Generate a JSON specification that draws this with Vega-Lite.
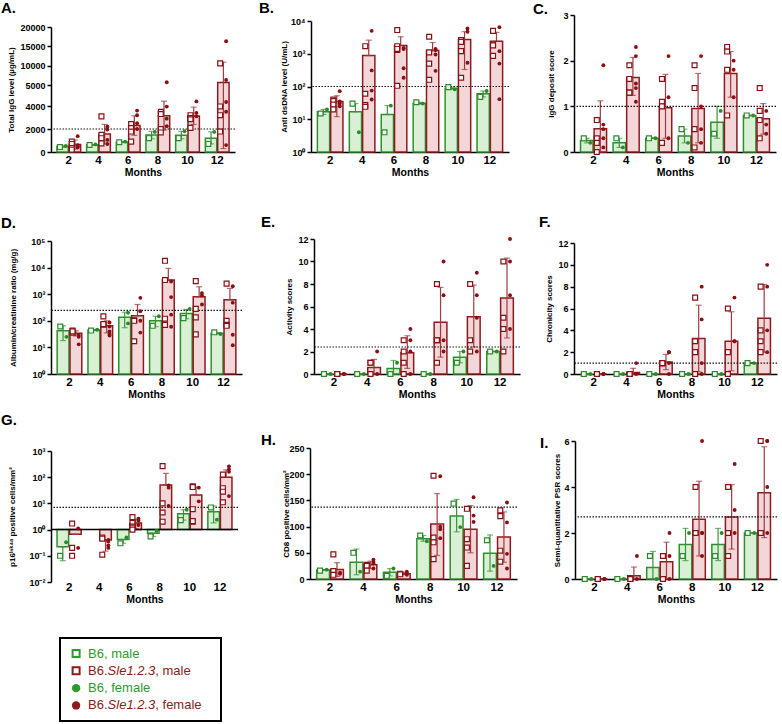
{
"$schema":"https://vega.github.io/schema/vega-lite/v6.json",
"padding":{"left":1,"top":1,"right":0,"bottom":0},
"background":"white",
"config":{
 "font":"Liberation Sans",
 "view":{"stroke":null},
 "axis":{"domainColor":"#000","domainWidth":1.5,"tickColor":"#000","tickWidth":1.5,"labelColor":"#000","titleColor":"#000","labelFontWeight":"bold","titleFontWeight":"bold","grid":false},
 "axisX":{"ticks":false,"labelFontSize":11.5,"labelPadding":2,"labelAngle":0,"titleFontSize":10.5,"titlePadding":2},
 "axisY":{"tickSize":4,"labelFontSize":9,"labelPadding":2,"titleFontSize":8,"labelOverlap":false,"tickCount":12},
 "title":{"fontSize":15,"fontWeight":"bold","anchor":"start","color":"#000","frame":"group"},
 "scale":{"bandPaddingInner":0.32,"bandPaddingOuter":0.3}
},
"datasets":{
"t":[{"p":"A","t":2000},{"p":"B","t":100},{"p":"C","t":1},{"p":"D","t":245},{"p":"E","t":2.4},{"p":"F","t":1},{"p":"G","t":7},{"p":"H","t":137},{"p":"I","t":2.7}],
"b":[
{"p":"A","m":2,"g":"B6","mean":480,"lo":420,"hi":540},{"p":"A","m":2,"g":"Sle","mean":650,"lo":250,"hi":1050},
{"p":"A","m":4,"g":"B6","mean":630,"lo":600,"hi":660},{"p":"A","m":4,"g":"Sle","mean":1560,"lo":700,"hi":2400},
{"p":"A","m":6,"g":"B6","mean":880,"lo":850,"hi":910},{"p":"A","m":6,"g":"Sle","mean":2300,"lo":1450,"hi":3150},
{"p":"A","m":8,"g":"B6","mean":1475,"lo":1150,"hi":1800},{"p":"A","m":8,"g":"Sle","mean":3160,"lo":1900,"hi":4420},
{"p":"A","m":10,"g":"B6","mean":1450,"lo":1150,"hi":1800},{"p":"A","m":10,"g":"Sle","mean":3140,"lo":2400,"hi":3900},
{"p":"A","m":12,"g":"B6","mean":1200,"lo":700,"hi":1750},{"p":"A","m":12,"g":"Sle","mean":5640,"lo":300,"hi":10900},
{"p":"B","m":2,"g":"B6","mean":17,"lo":14,"hi":20},{"p":"B","m":2,"g":"Sle","mean":35,"lo":12,"hi":52},
{"p":"B","m":4,"g":"B6","mean":17,"lo":17,"hi":30},{"p":"B","m":4,"g":"Sle","mean":880,"lo":880,"hi":2600},
{"p":"B","m":6,"g":"B6","mean":14,"lo":14,"hi":26},{"p":"B","m":6,"g":"Sle","mean":1800,"lo":1800,"hi":3300},
{"p":"B","m":8,"g":"B6","mean":31,"lo":29,"hi":33},{"p":"B","m":8,"g":"Sle","mean":1250,"lo":1250,"hi":2200},
{"p":"B","m":10,"g":"B6","mean":88,"lo":82,"hi":95},{"p":"B","m":10,"g":"Sle","mean":2700,"lo":330,"hi":4700},
{"p":"B","m":12,"g":"B6","mean":60,"lo":48,"hi":73},{"p":"B","m":12,"g":"Sle","mean":2400,"lo":2400,"hi":4500},
{"p":"C","m":2,"g":"B6","mean":0.25,"lo":0.2,"hi":0.3},{"p":"C","m":2,"g":"Sle","mean":0.51,"lo":0,"hi":1.12},
{"p":"C","m":4,"g":"B6","mean":0.2,"lo":0.1,"hi":0.3},{"p":"C","m":4,"g":"Sle","mean":1.63,"lo":1.24,"hi":2.07},
{"p":"C","m":6,"g":"B6","mean":0.3,"lo":0.3,"hi":0.3},{"p":"C","m":6,"g":"Sle","mean":0.97,"lo":0.3,"hi":1.7},
{"p":"C","m":8,"g":"B6","mean":0.35,"lo":0.2,"hi":0.5},{"p":"C","m":8,"g":"Sle","mean":0.95,"lo":0.2,"hi":1.72},
{"p":"C","m":10,"g":"B6","mean":0.65,"lo":0.3,"hi":1.0},{"p":"C","m":10,"g":"Sle","mean":1.72,"lo":1.2,"hi":2.2},
{"p":"C","m":12,"g":"B6","mean":0.8,"lo":0.8,"hi":0.8},{"p":"C","m":12,"g":"Sle","mean":0.73,"lo":0.39,"hi":1.06},
{"p":"D","m":2,"g":"B6","mean":42,"lo":18,"hi":65},{"p":"D","m":2,"g":"Sle","mean":34,"lo":27,"hi":42},
{"p":"D","m":4,"g":"B6","mean":45,"lo":43,"hi":47},{"p":"D","m":4,"g":"Sle","mean":65,"lo":35,"hi":100},
{"p":"D","m":6,"g":"B6","mean":135,"lo":55,"hi":210},{"p":"D","m":6,"g":"Sle","mean":155,"lo":155,"hi":410},
{"p":"D","m":8,"g":"B6","mean":100,"lo":60,"hi":148},{"p":"D","m":8,"g":"Sle","mean":3400,"lo":3400,"hi":9300},
{"p":"D","m":10,"g":"B6","mean":190,"lo":120,"hi":270},{"p":"D","m":10,"g":"Sle","mean":800,"lo":800,"hi":1900},
{"p":"D","m":12,"g":"B6","mean":34,"lo":32,"hi":36},{"p":"D","m":12,"g":"Sle","mean":620,"lo":620,"hi":1650},
{"p":"E","m":2,"g":"B6","mean":0,"lo":0,"hi":0},{"p":"E","m":2,"g":"Sle","mean":0,"lo":0,"hi":0},
{"p":"E","m":4,"g":"B6","mean":0,"lo":0,"hi":0},{"p":"E","m":4,"g":"Sle","mean":0.57,"lo":0,"hi":1.3},
{"p":"E","m":6,"g":"B6","mean":0.5,"lo":0,"hi":1.2},{"p":"E","m":6,"g":"Sle","mean":1.9,"lo":0.5,"hi":3.4},
{"p":"E","m":8,"g":"B6","mean":0,"lo":0,"hi":0},{"p":"E","m":8,"g":"Sle","mean":4.6,"lo":1.5,"hi":7.7},
{"p":"E","m":10,"g":"B6","mean":1.5,"lo":1,"hi":2},{"p":"E","m":10,"g":"Sle","mean":5.1,"lo":2.4,"hi":7.9},
{"p":"E","m":12,"g":"B6","mean":2,"lo":2,"hi":2},{"p":"E","m":12,"g":"Sle","mean":6.75,"lo":3.2,"hi":10.3},
{"p":"F","m":2,"g":"B6","mean":0,"lo":0,"hi":0},{"p":"F","m":2,"g":"Sle","mean":0,"lo":0,"hi":0},
{"p":"F","m":4,"g":"B6","mean":0,"lo":0,"hi":0},{"p":"F","m":4,"g":"Sle","mean":0.14,"lo":0,"hi":0.52},
{"p":"F","m":6,"g":"B6","mean":0,"lo":0,"hi":0},{"p":"F","m":6,"g":"Sle","mean":1.1,"lo":0.4,"hi":1.8},
{"p":"F","m":8,"g":"B6","mean":0,"lo":0,"hi":0},{"p":"F","m":8,"g":"Sle","mean":3.25,"lo":0.2,"hi":6.3},
{"p":"F","m":10,"g":"B6","mean":0,"lo":0,"hi":0},{"p":"F","m":10,"g":"Sle","mean":3,"lo":0.3,"hi":5.7},
{"p":"F","m":12,"g":"B6","mean":1,"lo":1,"hi":1},{"p":"F","m":12,"g":"Sle","mean":5.1,"lo":2,"hi":8.2},
{"p":"G","m":2,"g":"B6","mean":0.22,"lo":0.065,"hi":0.22},{"p":"G","m":2,"g":"Sle","mean":0.66,"lo":0.66,"hi":0.66},
{"p":"G","m":4,"g":"Sle","mean":0.4,"lo":0.15,"hi":0.4},
{"p":"G","m":6,"g":"B6","mean":0.42,"lo":0.3,"hi":0.42},{"p":"G","m":6,"g":"Sle","mean":1.8,"lo":1.1,"hi":2.5},
{"p":"G","m":8,"g":"B6","mean":0.73,"lo":0.55,"hi":0.73},{"p":"G","m":8,"g":"Sle","mean":50,"lo":50,"hi":140},
{"p":"G","m":10,"g":"B6","mean":4,"lo":2.3,"hi":5.7},{"p":"G","m":10,"g":"Sle","mean":21,"lo":21,"hi":42},
{"p":"G","m":12,"g":"B6","mean":4.8,"lo":1.8,"hi":8},{"p":"G","m":12,"g":"Sle","mean":100,"lo":100,"hi":190},
{"p":"H","m":2,"g":"B6","mean":17,"lo":16,"hi":18},{"p":"H","m":2,"g":"Sle","mean":18,"lo":5,"hi":31},
{"p":"H","m":4,"g":"B6","mean":32,"lo":8,"hi":57},{"p":"H","m":4,"g":"Sle","mean":27,"lo":20,"hi":34},
{"p":"H","m":6,"g":"B6","mean":13,"lo":6,"hi":20},{"p":"H","m":6,"g":"Sle","mean":10,"lo":8,"hi":13},
{"p":"H","m":8,"g":"B6","mean":77,"lo":72,"hi":83},{"p":"H","m":8,"g":"Sle","mean":105,"lo":45,"hi":163},
{"p":"H","m":10,"g":"B6","mean":120,"lo":90,"hi":152},{"p":"H","m":10,"g":"Sle","mean":95,"lo":50,"hi":140},
{"p":"H","m":12,"g":"B6","mean":49,"lo":15,"hi":84},{"p":"H","m":12,"g":"Sle","mean":80,"lo":32,"hi":128},
{"p":"I","m":2,"g":"B6","mean":0,"lo":0,"hi":0},{"p":"I","m":2,"g":"Sle","mean":0,"lo":0,"hi":0},
{"p":"I","m":4,"g":"B6","mean":0,"lo":0,"hi":0},{"p":"I","m":4,"g":"Sle","mean":0.14,"lo":0,"hi":0.52},
{"p":"I","m":6,"g":"B6","mean":0.5,"lo":0,"hi":1.2},{"p":"I","m":6,"g":"Sle","mean":0.75,"lo":0,"hi":1.6},
{"p":"I","m":8,"g":"B6","mean":1.5,"lo":0.8,"hi":2.2},{"p":"I","m":8,"g":"Sle","mean":2.6,"lo":1,"hi":4.25},
{"p":"I","m":10,"g":"B6","mean":1.5,"lo":0.8,"hi":2.2},{"p":"I","m":10,"g":"Sle","mean":2.7,"lo":1.3,"hi":4.1},
{"p":"I","m":12,"g":"B6","mean":2,"lo":2,"hi":2},{"p":"I","m":12,"g":"Sle","mean":3.75,"lo":1.8,"hi":5.75}
],
"d":[
{"p":"A","m":2,"g":"B6","s":"m","v":430},{"p":"A","m":2,"g":"B6","s":"f","v":520},
{"p":"A","m":2,"g":"Sle","s":"f","v":1380},{"p":"A","m":2,"g":"Sle","s":"m","v":900},{"p":"A","m":2,"g":"Sle","s":"m","v":700},{"p":"A","m":2,"g":"Sle","s":"f","v":600},{"p":"A","m":2,"g":"Sle","s":"f","v":500},{"p":"A","m":2,"g":"Sle","s":"m","v":350},{"p":"A","m":2,"g":"Sle","s":"m","v":200},{"p":"A","m":2,"g":"Sle","s":"f","v":400},
{"p":"A","m":4,"g":"B6","s":"m","v":610},{"p":"A","m":4,"g":"B6","s":"f","v":660},
{"p":"A","m":4,"g":"Sle","s":"m","v":3100},{"p":"A","m":4,"g":"Sle","s":"f","v":2200},{"p":"A","m":4,"g":"Sle","s":"f","v":1950},{"p":"A","m":4,"g":"Sle","s":"m","v":1500},{"p":"A","m":4,"g":"Sle","s":"m","v":1200},{"p":"A","m":4,"g":"Sle","s":"f","v":1050},{"p":"A","m":4,"g":"Sle","s":"m","v":750},{"p":"A","m":4,"g":"Sle","s":"f","v":700},
{"p":"A","m":6,"g":"B6","s":"m","v":850},{"p":"A","m":6,"g":"B6","s":"f","v":900},
{"p":"A","m":6,"g":"Sle","s":"f","v":3600},{"p":"A","m":6,"g":"Sle","s":"f","v":3200},{"p":"A","m":6,"g":"Sle","s":"f","v":2500},{"p":"A","m":6,"g":"Sle","s":"f","v":2000},{"p":"A","m":6,"g":"Sle","s":"m","v":2430},{"p":"A","m":6,"g":"Sle","s":"m","v":2080},{"p":"A","m":6,"g":"Sle","s":"m","v":1780},{"p":"A","m":6,"g":"Sle","s":"m","v":900},
{"p":"A","m":8,"g":"B6","s":"m","v":1200},{"p":"A","m":8,"g":"B6","s":"f","v":1750},
{"p":"A","m":8,"g":"Sle","s":"f","v":5700},{"p":"A","m":8,"g":"Sle","s":"f","v":3950},{"p":"A","m":8,"g":"Sle","s":"m","v":3500},{"p":"A","m":8,"g":"Sle","s":"m","v":3300},{"p":"A","m":8,"g":"Sle","s":"f","v":2900},{"p":"A","m":8,"g":"Sle","s":"f","v":2250},{"p":"A","m":8,"g":"Sle","s":"m","v":2000},{"p":"A","m":8,"g":"Sle","s":"m","v":1700},
{"p":"A","m":10,"g":"B6","s":"m","v":1200},{"p":"A","m":10,"g":"B6","s":"f","v":1800},
{"p":"A","m":10,"g":"Sle","s":"f","v":4400},{"p":"A","m":10,"g":"Sle","s":"f","v":3400},{"p":"A","m":10,"g":"Sle","s":"m","v":3200},{"p":"A","m":10,"g":"Sle","s":"f","v":3100},{"p":"A","m":10,"g":"Sle","s":"m","v":2950},{"p":"A","m":10,"g":"Sle","s":"m","v":2850},{"p":"A","m":10,"g":"Sle","s":"m","v":2100},
{"p":"A","m":12,"g":"B6","s":"f","v":1750},{"p":"A","m":12,"g":"B6","s":"m","v":700},
{"p":"A","m":12,"g":"Sle","s":"f","v":16300},{"p":"A","m":12,"g":"Sle","s":"f","v":6300},{"p":"A","m":12,"g":"Sle","s":"f","v":4350},{"p":"A","m":12,"g":"Sle","s":"f","v":3500},{"p":"A","m":12,"g":"Sle","s":"f","v":600},{"p":"A","m":12,"g":"Sle","s":"m","v":10600},{"p":"A","m":12,"g":"Sle","s":"m","v":3960},{"p":"A","m":12,"g":"Sle","s":"m","v":3200},{"p":"A","m":12,"g":"Sle","s":"m","v":1780},
{"p":"B","m":2,"g":"B6","s":"f","v":20},{"p":"B","m":2,"g":"B6","s":"m","v":15},
{"p":"B","m":2,"g":"Sle","s":"f","v":72},{"p":"B","m":2,"g":"Sle","s":"m","v":40},{"p":"B","m":2,"g":"Sle","s":"m","v":36},{"p":"B","m":2,"g":"Sle","s":"f","v":35},{"p":"B","m":2,"g":"Sle","s":"f","v":30},{"p":"B","m":2,"g":"Sle","s":"m","v":28},{"p":"B","m":2,"g":"Sle","s":"f","v":25},{"p":"B","m":2,"g":"Sle","s":"m","v":20},
{"p":"B","m":4,"g":"B6","s":"m","v":30},{"p":"B","m":4,"g":"B6","s":"f","v":4},
{"p":"B","m":4,"g":"Sle","s":"f","v":5000},{"p":"B","m":4,"g":"Sle","s":"m","v":1700},{"p":"B","m":4,"g":"Sle","s":"f","v":310},{"p":"B","m":4,"g":"Sle","s":"f","v":75},{"p":"B","m":4,"g":"Sle","s":"m","v":60},{"p":"B","m":4,"g":"Sle","s":"f","v":40},{"p":"B","m":4,"g":"Sle","s":"m","v":27},{"p":"B","m":4,"g":"Sle","s":"m","v":24},
{"p":"B","m":6,"g":"B6","s":"f","v":26},{"p":"B","m":6,"g":"B6","s":"m","v":4},
{"p":"B","m":6,"g":"Sle","s":"m","v":5300},{"p":"B","m":6,"g":"Sle","s":"m","v":1700},{"p":"B","m":6,"g":"Sle","s":"f","v":1500},{"p":"B","m":6,"g":"Sle","s":"f","v":1400},{"p":"B","m":6,"g":"Sle","s":"m","v":1300},{"p":"B","m":6,"g":"Sle","s":"m","v":1400},{"p":"B","m":6,"g":"Sle","s":"f","v":360},{"p":"B","m":6,"g":"Sle","s":"f","v":185},{"p":"B","m":6,"g":"Sle","s":"m","v":105},
{"p":"B","m":8,"g":"B6","s":"f","v":30},{"p":"B","m":8,"g":"B6","s":"m","v":33},
{"p":"B","m":8,"g":"Sle","s":"m","v":3300},{"p":"B","m":8,"g":"Sle","s":"f","v":1400},{"p":"B","m":8,"g":"Sle","s":"f","v":1300},{"p":"B","m":8,"g":"Sle","s":"m","v":1100},{"p":"B","m":8,"g":"Sle","s":"m","v":500},{"p":"B","m":8,"g":"Sle","s":"f","v":300},{"p":"B","m":8,"g":"Sle","s":"m","v":160},{"p":"B","m":8,"g":"Sle","s":"f","v":950},
{"p":"B","m":10,"g":"B6","s":"f","v":82},{"p":"B","m":10,"g":"B6","s":"m","v":96},
{"p":"B","m":10,"g":"Sle","s":"f","v":5900},{"p":"B","m":10,"g":"Sle","s":"f","v":4700},{"p":"B","m":10,"g":"Sle","s":"m","v":2600},{"p":"B","m":10,"g":"Sle","s":"m","v":2300},{"p":"B","m":10,"g":"Sle","s":"m","v":1200},{"p":"B","m":10,"g":"Sle","s":"f","v":530},{"p":"B","m":10,"g":"Sle","s":"m","v":185},
{"p":"B","m":12,"g":"B6","s":"f","v":73},{"p":"B","m":12,"g":"B6","s":"m","v":48},
{"p":"B","m":12,"g":"Sle","s":"f","v":6500},{"p":"B","m":12,"g":"Sle","s":"m","v":5000},{"p":"B","m":12,"g":"Sle","s":"m","v":1950},{"p":"B","m":12,"g":"Sle","s":"m","v":1800},{"p":"B","m":12,"g":"Sle","s":"m","v":860},{"p":"B","m":12,"g":"Sle","s":"f","v":1200},{"p":"B","m":12,"g":"Sle","s":"f","v":500},{"p":"B","m":12,"g":"Sle","s":"f","v":41},
{"p":"C","m":2,"g":"B6","s":"m","v":0.3},{"p":"C","m":2,"g":"B6","s":"f","v":0.2},
{"p":"C","m":2,"g":"Sle","s":"f","v":1.9},{"p":"C","m":2,"g":"Sle","s":"m","v":0.7},{"p":"C","m":2,"g":"Sle","s":"f","v":0.6},{"p":"C","m":2,"g":"Sle","s":"f","v":0.5},{"p":"C","m":2,"g":"Sle","s":"m","v":0.3},{"p":"C","m":2,"g":"Sle","s":"f","v":0.3},{"p":"C","m":2,"g":"Sle","s":"m","v":0.2},{"p":"C","m":2,"g":"Sle","s":"f","v":0.1},{"p":"C","m":2,"g":"Sle","s":"m","v":0},
{"p":"C","m":4,"g":"B6","s":"m","v":0.3},{"p":"C","m":4,"g":"B6","s":"f","v":0.1},
{"p":"C","m":4,"g":"Sle","s":"f","v":2.3},{"p":"C","m":4,"g":"Sle","s":"f","v":2.1},{"p":"C","m":4,"g":"Sle","s":"m","v":1.9},{"p":"C","m":4,"g":"Sle","s":"m","v":1.6},{"p":"C","m":4,"g":"Sle","s":"f","v":1.5},{"p":"C","m":4,"g":"Sle","s":"f","v":1.4},{"p":"C","m":4,"g":"Sle","s":"m","v":1.3},{"p":"C","m":4,"g":"Sle","s":"m","v":1.3},{"p":"C","m":4,"g":"Sle","s":"f","v":1.1},
{"p":"C","m":6,"g":"B6","s":"m","v":0.3},{"p":"C","m":6,"g":"B6","s":"f","v":0.3},
{"p":"C","m":6,"g":"Sle","s":"f","v":2.1},{"p":"C","m":6,"g":"Sle","s":"m","v":1.6},{"p":"C","m":6,"g":"Sle","s":"f","v":1.2},{"p":"C","m":6,"g":"Sle","s":"m","v":1.1},{"p":"C","m":6,"g":"Sle","s":"m","v":1.0},{"p":"C","m":6,"g":"Sle","s":"f","v":0.3},{"p":"C","m":6,"g":"Sle","s":"m","v":0.2},
{"p":"C","m":8,"g":"B6","s":"m","v":0.5},{"p":"C","m":8,"g":"B6","s":"f","v":0.2},
{"p":"C","m":8,"g":"Sle","s":"f","v":2.1},{"p":"C","m":8,"g":"Sle","s":"m","v":1.9},{"p":"C","m":8,"g":"Sle","s":"m","v":1.4},{"p":"C","m":8,"g":"Sle","s":"f","v":1.0},{"p":"C","m":8,"g":"Sle","s":"m","v":0.5},{"p":"C","m":8,"g":"Sle","s":"f","v":0.5},{"p":"C","m":8,"g":"Sle","s":"f","v":0.2},{"p":"C","m":8,"g":"Sle","s":"m","v":0.1},
{"p":"C","m":10,"g":"B6","s":"f","v":0.9},{"p":"C","m":10,"g":"B6","s":"m","v":0.4},
{"p":"C","m":10,"g":"Sle","s":"m","v":2.3},{"p":"C","m":10,"g":"Sle","s":"m","v":2.2},{"p":"C","m":10,"g":"Sle","s":"f","v":2.0},{"p":"C","m":10,"g":"Sle","s":"m","v":1.8},{"p":"C","m":10,"g":"Sle","s":"f","v":1.8},{"p":"C","m":10,"g":"Sle","s":"f","v":1.2},{"p":"C","m":10,"g":"Sle","s":"m","v":0.8},
{"p":"C","m":12,"g":"B6","s":"m","v":0.8},{"p":"C","m":12,"g":"B6","s":"f","v":0.8},
{"p":"C","m":12,"g":"Sle","s":"m","v":1.4},{"p":"C","m":12,"g":"Sle","s":"m","v":0.9},{"p":"C","m":12,"g":"Sle","s":"f","v":0.9},{"p":"C","m":12,"g":"Sle","s":"m","v":0.7},{"p":"C","m":12,"g":"Sle","s":"f","v":0.6},{"p":"C","m":12,"g":"Sle","s":"f","v":0.4},{"p":"C","m":12,"g":"Sle","s":"m","v":0.3},
{"p":"D","m":2,"g":"B6","s":"m","v":61},{"p":"D","m":2,"g":"B6","s":"f","v":25},
{"p":"D","m":2,"g":"Sle","s":"m","v":43},{"p":"D","m":2,"g":"Sle","s":"m","v":36},{"p":"D","m":2,"g":"Sle","s":"m","v":40},{"p":"D","m":2,"g":"Sle","s":"f","v":29},{"p":"D","m":2,"g":"Sle","s":"f","v":25},{"p":"D","m":2,"g":"Sle","s":"f","v":13},
{"p":"D","m":4,"g":"B6","s":"m","v":43},{"p":"D","m":4,"g":"B6","s":"f","v":46},
{"p":"D","m":4,"g":"Sle","s":"m","v":147},{"p":"D","m":4,"g":"Sle","s":"m","v":71},{"p":"D","m":4,"g":"Sle","s":"m","v":75},{"p":"D","m":4,"g":"Sle","s":"f","v":61},{"p":"D","m":4,"g":"Sle","s":"f","v":40},{"p":"D","m":4,"g":"Sle","s":"f","v":28},{"p":"D","m":4,"g":"Sle","s":"f","v":87},{"p":"D","m":4,"g":"Sle","s":"f","v":32},
{"p":"D","m":6,"g":"B6","s":"f","v":200},{"p":"D","m":6,"g":"B6","s":"f","v":80},
{"p":"D","m":6,"g":"Sle","s":"f","v":730},{"p":"D","m":6,"g":"Sle","s":"f","v":230},{"p":"D","m":6,"g":"Sle","s":"m","v":105},{"p":"D","m":6,"g":"Sle","s":"m","v":100},{"p":"D","m":6,"g":"Sle","s":"f","v":100},{"p":"D","m":6,"g":"Sle","s":"f","v":36},{"p":"D","m":6,"g":"Sle","s":"m","v":17},
{"p":"D","m":8,"g":"B6","s":"f","v":148},{"p":"D","m":8,"g":"B6","s":"m","v":65},
{"p":"D","m":8,"g":"Sle","s":"m","v":18000},{"p":"D","m":8,"g":"Sle","s":"m","v":3400},{"p":"D","m":8,"g":"Sle","s":"f","v":3000},{"p":"D","m":8,"g":"Sle","s":"f","v":780},{"p":"D","m":8,"g":"Sle","s":"f","v":170},{"p":"D","m":8,"g":"Sle","s":"m","v":120},{"p":"D","m":8,"g":"Sle","s":"m","v":70},{"p":"D","m":8,"g":"Sle","s":"f","v":60},
{"p":"D","m":10,"g":"B6","s":"f","v":280},{"p":"D","m":10,"g":"B6","s":"m","v":126},
{"p":"D","m":10,"g":"Sle","s":"m","v":3100},{"p":"D","m":10,"g":"Sle","s":"f","v":900},{"p":"D","m":10,"g":"Sle","s":"f","v":1100},{"p":"D","m":10,"g":"Sle","s":"m","v":280},{"p":"D","m":10,"g":"Sle","s":"f","v":410},{"p":"D","m":10,"g":"Sle","s":"m","v":135},{"p":"D","m":10,"g":"Sle","s":"m","v":31},
{"p":"D","m":12,"g":"B6","s":"f","v":32},{"p":"D","m":12,"g":"B6","s":"m","v":37},
{"p":"D","m":12,"g":"Sle","s":"m","v":2500},{"p":"D","m":12,"g":"Sle","s":"f","v":2000},{"p":"D","m":12,"g":"Sle","s":"f","v":480},{"p":"D","m":12,"g":"Sle","s":"m","v":100},{"p":"D","m":12,"g":"Sle","s":"m","v":70},{"p":"D","m":12,"g":"Sle","s":"m","v":65},{"p":"D","m":12,"g":"Sle","s":"f","v":30},{"p":"D","m":12,"g":"Sle","s":"f","v":12},
{"p":"E","m":2,"g":"B6","s":"m","v":0},{"p":"E","m":2,"g":"B6","s":"f","v":0},
{"p":"E","m":2,"g":"Sle","s":"m","v":0},{"p":"E","m":2,"g":"Sle","s":"m","v":0},{"p":"E","m":2,"g":"Sle","s":"f","v":0},{"p":"E","m":2,"g":"Sle","s":"f","v":0},
{"p":"E","m":4,"g":"B6","s":"m","v":0},{"p":"E","m":4,"g":"B6","s":"f","v":0},
{"p":"E","m":4,"g":"Sle","s":"f","v":2},{"p":"E","m":4,"g":"Sle","s":"m","v":1},{"p":"E","m":4,"g":"Sle","s":"m","v":1},{"p":"E","m":4,"g":"Sle","s":"m","v":0},{"p":"E","m":4,"g":"Sle","s":"f","v":0},
{"p":"E","m":6,"g":"B6","s":"f","v":1},{"p":"E","m":6,"g":"B6","s":"m","v":0},
{"p":"E","m":6,"g":"Sle","s":"f","v":4},{"p":"E","m":6,"g":"Sle","s":"m","v":3},{"p":"E","m":6,"g":"Sle","s":"f","v":3},{"p":"E","m":6,"g":"Sle","s":"m","v":2},{"p":"E","m":6,"g":"Sle","s":"f","v":2},{"p":"E","m":6,"g":"Sle","s":"m","v":1},{"p":"E","m":6,"g":"Sle","s":"m","v":0},{"p":"E","m":6,"g":"Sle","s":"f","v":0},
{"p":"E","m":8,"g":"B6","s":"m","v":0},{"p":"E","m":8,"g":"B6","s":"f","v":0},
{"p":"E","m":8,"g":"Sle","s":"f","v":10},{"p":"E","m":8,"g":"Sle","s":"m","v":8},{"p":"E","m":8,"g":"Sle","s":"f","v":7},{"p":"E","m":8,"g":"Sle","s":"m","v":3},{"p":"E","m":8,"g":"Sle","s":"m","v":3},{"p":"E","m":8,"g":"Sle","s":"f","v":2},{"p":"E","m":8,"g":"Sle","s":"m","v":1},{"p":"E","m":8,"g":"Sle","s":"f","v":3},
{"p":"E","m":10,"g":"B6","s":"f","v":2},{"p":"E","m":10,"g":"B6","s":"m","v":1},
{"p":"E","m":10,"g":"Sle","s":"f","v":9},{"p":"E","m":10,"g":"Sle","s":"m","v":8},{"p":"E","m":10,"g":"Sle","s":"f","v":7},{"p":"E","m":10,"g":"Sle","s":"f","v":5},{"p":"E","m":10,"g":"Sle","s":"m","v":3},{"p":"E","m":10,"g":"Sle","s":"m","v":2},{"p":"E","m":10,"g":"Sle","s":"f","v":2},
{"p":"E","m":12,"g":"B6","s":"m","v":2},{"p":"E","m":12,"g":"B6","s":"f","v":2},
{"p":"E","m":12,"g":"Sle","s":"f","v":12},{"p":"E","m":12,"g":"Sle","s":"m","v":10},{"p":"E","m":12,"g":"Sle","s":"f","v":10},{"p":"E","m":12,"g":"Sle","s":"f","v":7},{"p":"E","m":12,"g":"Sle","s":"m","v":5},{"p":"E","m":12,"g":"Sle","s":"m","v":4},{"p":"E","m":12,"g":"Sle","s":"f","v":4},{"p":"E","m":12,"g":"Sle","s":"m","v":2},
{"p":"F","m":2,"g":"B6","s":"m","v":0},{"p":"F","m":2,"g":"B6","s":"f","v":0},
{"p":"F","m":2,"g":"Sle","s":"m","v":0},{"p":"F","m":2,"g":"Sle","s":"m","v":0},{"p":"F","m":2,"g":"Sle","s":"f","v":0},{"p":"F","m":2,"g":"Sle","s":"f","v":0},
{"p":"F","m":4,"g":"B6","s":"m","v":0},{"p":"F","m":4,"g":"B6","s":"f","v":0},
{"p":"F","m":4,"g":"Sle","s":"f","v":1},{"p":"F","m":4,"g":"Sle","s":"m","v":0},{"p":"F","m":4,"g":"Sle","s":"m","v":0},{"p":"F","m":4,"g":"Sle","s":"f","v":0},
{"p":"F","m":6,"g":"B6","s":"m","v":0},{"p":"F","m":6,"g":"B6","s":"f","v":0},
{"p":"F","m":6,"g":"Sle","s":"f","v":2},{"p":"F","m":6,"g":"Sle","s":"f","v":2},{"p":"F","m":6,"g":"Sle","s":"m","v":1},{"p":"F","m":6,"g":"Sle","s":"m","v":1},{"p":"F","m":6,"g":"Sle","s":"f","v":1},{"p":"F","m":6,"g":"Sle","s":"m","v":1},{"p":"F","m":6,"g":"Sle","s":"f","v":0},
{"p":"F","m":8,"g":"B6","s":"m","v":0},{"p":"F","m":8,"g":"B6","s":"f","v":0},
{"p":"F","m":8,"g":"Sle","s":"f","v":8},{"p":"F","m":8,"g":"Sle","s":"m","v":7},{"p":"F","m":8,"g":"Sle","s":"f","v":5},{"p":"F","m":8,"g":"Sle","s":"m","v":3},{"p":"F","m":8,"g":"Sle","s":"m","v":2},{"p":"F","m":8,"g":"Sle","s":"f","v":1},{"p":"F","m":8,"g":"Sle","s":"m","v":0},{"p":"F","m":8,"g":"Sle","s":"f","v":0},
{"p":"F","m":10,"g":"B6","s":"m","v":0},{"p":"F","m":10,"g":"B6","s":"f","v":0},
{"p":"F","m":10,"g":"Sle","s":"f","v":7},{"p":"F","m":10,"g":"Sle","s":"m","v":6},{"p":"F","m":10,"g":"Sle","s":"f","v":3},{"p":"F","m":10,"g":"Sle","s":"f","v":3},{"p":"F","m":10,"g":"Sle","s":"m","v":2},{"p":"F","m":10,"g":"Sle","s":"m","v":0},
{"p":"F","m":12,"g":"B6","s":"m","v":1},{"p":"F","m":12,"g":"B6","s":"f","v":1},
{"p":"F","m":12,"g":"Sle","s":"f","v":10},{"p":"F","m":12,"g":"Sle","s":"m","v":8},{"p":"F","m":12,"g":"Sle","s":"f","v":8},{"p":"F","m":12,"g":"Sle","s":"m","v":4},{"p":"F","m":12,"g":"Sle","s":"f","v":4},{"p":"F","m":12,"g":"Sle","s":"m","v":3},{"p":"F","m":12,"g":"Sle","s":"m","v":2},{"p":"F","m":12,"g":"Sle","s":"f","v":2},
{"p":"G","m":2,"g":"B6","s":"f","v":0.33},{"p":"G","m":2,"g":"B6","s":"m","v":0.1},
{"p":"G","m":2,"g":"Sle","s":"m","v":1.7},{"p":"G","m":2,"g":"Sle","s":"f","v":1.1},{"p":"G","m":2,"g":"Sle","s":"f","v":0.2},{"p":"G","m":2,"g":"Sle","s":"m","v":0.2},{"p":"G","m":2,"g":"Sle","s":"m","v":0.1},
{"p":"G","m":4,"g":"Sle","s":"m","v":0.5},{"p":"G","m":4,"g":"Sle","s":"m","v":0.45},{"p":"G","m":4,"g":"Sle","s":"f","v":0.4},{"p":"G","m":4,"g":"Sle","s":"f","v":0.35},{"p":"G","m":4,"g":"Sle","s":"f","v":0.25},{"p":"G","m":4,"g":"Sle","s":"f","v":0.2},{"p":"G","m":4,"g":"Sle","s":"m","v":0.11},
{"p":"G","m":6,"g":"B6","s":"f","v":0.5},{"p":"G","m":6,"g":"B6","s":"m","v":0.3},
{"p":"G","m":6,"g":"Sle","s":"m","v":3},{"p":"G","m":6,"g":"Sle","s":"f","v":2.6},{"p":"G","m":6,"g":"Sle","s":"f","v":2.2},{"p":"G","m":6,"g":"Sle","s":"m","v":1.8},{"p":"G","m":6,"g":"Sle","s":"f","v":1.5},{"p":"G","m":6,"g":"Sle","s":"m","v":1.3},{"p":"G","m":6,"g":"Sle","s":"m","v":1.2},{"p":"G","m":6,"g":"Sle","s":"m","v":1.0},
{"p":"G","m":8,"g":"B6","s":"f","v":0.9},{"p":"G","m":8,"g":"B6","s":"m","v":0.55},
{"p":"G","m":8,"g":"Sle","s":"m","v":265},{"p":"G","m":8,"g":"Sle","s":"f","v":48},{"p":"G","m":8,"g":"Sle","s":"f","v":40},{"p":"G","m":8,"g":"Sle","s":"m","v":10},{"p":"G","m":8,"g":"Sle","s":"f","v":8},{"p":"G","m":8,"g":"Sle","s":"m","v":4.5},{"p":"G","m":8,"g":"Sle","s":"m","v":2},
{"p":"G","m":10,"g":"B6","s":"f","v":5.7},{"p":"G","m":10,"g":"B6","s":"m","v":2.3},
{"p":"G","m":10,"g":"Sle","s":"m","v":45},{"p":"G","m":10,"g":"Sle","s":"m","v":42},{"p":"G","m":10,"g":"Sle","s":"f","v":40},{"p":"G","m":10,"g":"Sle","s":"f","v":12},{"p":"G","m":10,"g":"Sle","s":"m","v":6},{"p":"G","m":10,"g":"Sle","s":"m","v":2},{"p":"G","m":10,"g":"Sle","s":"m","v":2.1},
{"p":"G","m":12,"g":"B6","s":"m","v":7},{"p":"G","m":12,"g":"B6","s":"f","v":2.4},
{"p":"G","m":12,"g":"Sle","s":"f","v":260},{"p":"G","m":12,"g":"Sle","s":"f","v":200},{"p":"G","m":12,"g":"Sle","s":"f","v":160},{"p":"G","m":12,"g":"Sle","s":"m","v":125},{"p":"G","m":12,"g":"Sle","s":"m","v":38},{"p":"G","m":12,"g":"Sle","s":"m","v":28},{"p":"G","m":12,"g":"Sle","s":"f","v":19},{"p":"G","m":12,"g":"Sle","s":"m","v":11},
{"p":"H","m":2,"g":"B6","s":"f","v":18},{"p":"H","m":2,"g":"B6","s":"m","v":16},
{"p":"H","m":2,"g":"Sle","s":"m","v":47},{"p":"H","m":2,"g":"Sle","s":"m","v":15},{"p":"H","m":2,"g":"Sle","s":"f","v":12},{"p":"H","m":2,"g":"Sle","s":"f","v":10},{"p":"H","m":2,"g":"Sle","s":"m","v":8},
{"p":"H","m":4,"g":"B6","s":"m","v":50},{"p":"H","m":4,"g":"B6","s":"f","v":14},
{"p":"H","m":4,"g":"Sle","s":"f","v":37},{"p":"H","m":4,"g":"Sle","s":"f","v":33},{"p":"H","m":4,"g":"Sle","s":"f","v":30},{"p":"H","m":4,"g":"Sle","s":"m","v":27},{"p":"H","m":4,"g":"Sle","s":"m","v":25},{"p":"H","m":4,"g":"Sle","s":"f","v":20},{"p":"H","m":4,"g":"Sle","s":"m","v":16},
{"p":"H","m":6,"g":"B6","s":"f","v":20},{"p":"H","m":6,"g":"B6","s":"m","v":6},
{"p":"H","m":6,"g":"Sle","s":"f","v":14},{"p":"H","m":6,"g":"Sle","s":"f","v":11},{"p":"H","m":6,"g":"Sle","s":"m","v":10},{"p":"H","m":6,"g":"Sle","s":"m","v":9},{"p":"H","m":6,"g":"Sle","s":"f","v":8},
{"p":"H","m":8,"g":"B6","s":"m","v":83},{"p":"H","m":8,"g":"B6","s":"f","v":72},
{"p":"H","m":8,"g":"Sle","s":"m","v":197},{"p":"H","m":8,"g":"Sle","s":"f","v":196},{"p":"H","m":8,"g":"Sle","s":"f","v":100},{"p":"H","m":8,"g":"Sle","s":"f","v":95},{"p":"H","m":8,"g":"Sle","s":"m","v":79},{"p":"H","m":8,"g":"Sle","s":"f","v":78},{"p":"H","m":8,"g":"Sle","s":"m","v":70},{"p":"H","m":8,"g":"Sle","s":"m","v":38},
{"p":"H","m":10,"g":"B6","s":"m","v":144},{"p":"H","m":10,"g":"B6","s":"f","v":99},
{"p":"H","m":10,"g":"Sle","s":"f","v":156},{"p":"H","m":10,"g":"Sle","s":"m","v":134},{"p":"H","m":10,"g":"Sle","s":"f","v":121},{"p":"H","m":10,"g":"Sle","s":"f","v":109},{"p":"H","m":10,"g":"Sle","s":"m","v":76},{"p":"H","m":10,"g":"Sle","s":"m","v":60},{"p":"H","m":10,"g":"Sle","s":"m","v":25},
{"p":"H","m":12,"g":"B6","s":"m","v":74},{"p":"H","m":12,"g":"B6","s":"f","v":25},
{"p":"H","m":12,"g":"Sle","s":"f","v":146},{"p":"H","m":12,"g":"Sle","s":"m","v":131},{"p":"H","m":12,"g":"Sle","s":"m","v":120},{"p":"H","m":12,"g":"Sle","s":"f","v":108},{"p":"H","m":12,"g":"Sle","s":"m","v":54},{"p":"H","m":12,"g":"Sle","s":"f","v":48},{"p":"H","m":12,"g":"Sle","s":"m","v":33},{"p":"H","m":12,"g":"Sle","s":"f","v":20},
{"p":"I","m":2,"g":"B6","s":"m","v":0},{"p":"I","m":2,"g":"B6","s":"f","v":0},
{"p":"I","m":2,"g":"Sle","s":"m","v":0},{"p":"I","m":2,"g":"Sle","s":"m","v":0},{"p":"I","m":2,"g":"Sle","s":"f","v":0},{"p":"I","m":2,"g":"Sle","s":"f","v":0},
{"p":"I","m":4,"g":"B6","s":"m","v":0},{"p":"I","m":4,"g":"B6","s":"f","v":0},
{"p":"I","m":4,"g":"Sle","s":"f","v":1},{"p":"I","m":4,"g":"Sle","s":"m","v":0},{"p":"I","m":4,"g":"Sle","s":"m","v":0},{"p":"I","m":4,"g":"Sle","s":"f","v":0},
{"p":"I","m":6,"g":"B6","s":"m","v":1},{"p":"I","m":6,"g":"B6","s":"f","v":0},
{"p":"I","m":6,"g":"Sle","s":"f","v":2},{"p":"I","m":6,"g":"Sle","s":"f","v":1},{"p":"I","m":6,"g":"Sle","s":"m","v":1},{"p":"I","m":6,"g":"Sle","s":"m","v":0},{"p":"I","m":6,"g":"Sle","s":"f","v":0},
{"p":"I","m":8,"g":"B6","s":"f","v":2},{"p":"I","m":8,"g":"B6","s":"m","v":1},
{"p":"I","m":8,"g":"Sle","s":"f","v":6},{"p":"I","m":8,"g":"Sle","s":"m","v":4},{"p":"I","m":8,"g":"Sle","s":"m","v":2},{"p":"I","m":8,"g":"Sle","s":"f","v":2},{"p":"I","m":8,"g":"Sle","s":"m","v":2},{"p":"I","m":8,"g":"Sle","s":"f","v":2},{"p":"I","m":8,"g":"Sle","s":"f","v":1},
{"p":"I","m":10,"g":"B6","s":"f","v":2},{"p":"I","m":10,"g":"B6","s":"m","v":1},
{"p":"I","m":10,"g":"Sle","s":"f","v":5},{"p":"I","m":10,"g":"Sle","s":"m","v":4},{"p":"I","m":10,"g":"Sle","s":"f","v":3},{"p":"I","m":10,"g":"Sle","s":"m","v":2},{"p":"I","m":10,"g":"Sle","s":"m","v":2},{"p":"I","m":10,"g":"Sle","s":"f","v":2},{"p":"I","m":10,"g":"Sle","s":"m","v":1},
{"p":"I","m":12,"g":"B6","s":"m","v":2},{"p":"I","m":12,"g":"B6","s":"f","v":2},
{"p":"I","m":12,"g":"Sle","s":"m","v":6},{"p":"I","m":12,"g":"Sle","s":"f","v":6},{"p":"I","m":12,"g":"Sle","s":"f","v":6},{"p":"I","m":12,"g":"Sle","s":"f","v":4},{"p":"I","m":12,"g":"Sle","s":"m","v":2},{"p":"I","m":12,"g":"Sle","s":"m","v":2},{"p":"I","m":12,"g":"Sle","s":"f","v":2}
]
},
"spacing":13,
"vconcat":[
{"hconcat":[
 {"width":184,"height":137,"title":{"text":"A.","dx":-50,"offset":-1},"resolve":{"scale":{"xOffset":"independent"}},
  "layer":[
   {"data":{"name":"b"},"transform":[{"filter":"datum.p=='A'"}],"mark":{"type":"bar","strokeWidth":1.5},
    "encoding":{"x":{"field":"m","type":"ordinal","title":"Months"},"xOffset":{"field":"g","scale":{"domain":["B6","Sle"],"paddingInner":0.08}},
     "y":{"field":"mean","type":"quantitative","scale":{"type":"linear","domain":[0,5000,5000.001,20000],"range":[137,79.5,70,12],"nice":false,"zero":false},"axis":{"title":"Total IgG level (µg/mL)","titleX":-36,"values":[0,2000,4000,5000.001,10000,15000,20000],"format":"d","tickCount":12,"labelOverlap":false}},
     "fill":{"condition":{"test":"datum.g=='B6'","value":"#d9f0d5"},"value":"#f3d6d7"},"stroke":{"condition":{"test":"datum.g=='B6'","value":"#2f8f2f"},"value":"#8c1b20"}}},
   {"data":{"name":"b"},"transform":[{"filter":"datum.p=='A'"}],"mark":{"type":"rule","strokeWidth":1.2},
    "encoding":{"x":{"field":"m","type":"ordinal"},"xOffset":{"field":"g","scale":{"domain":["B6","Sle"],"paddingInner":0.08}},"y":{"field":"lo","type":"quantitative"},"y2":{"field":"hi"},"color":{"condition":{"test":"datum.g=='B6'","value":"#3a953a"},"value":"#9b3b40"}}},
   {"data":{"name":"b"},"transform":[{"filter":"datum.p=='A'"},{"fold":["lo","hi"],"as":["k","e"]}],"mark":{"type":"tick","size":6,"thickness":1.2},
    "encoding":{"x":{"field":"m","type":"ordinal"},"xOffset":{"field":"g","scale":{"domain":["B6","Sle"],"paddingInner":0.08}},"y":{"field":"e","type":"quantitative"},"color":{"condition":{"test":"datum.g=='B6'","value":"#3a953a"},"value":"#9b3b40"}}},
   {"data":{"name":"t"},"transform":[{"filter":"datum.p=='A'"}],"mark":{"type":"rule","strokeDash":[1.5,1.5],"strokeWidth":1.2,"color":"#111"},"encoding":{"y":{"field":"t","type":"quantitative"}}},
   {"data":{"name":"d"},"transform":[{"filter":"datum.p=='A'"},{"calculate":"datum.g+datum.s","as":"k"}],"mark":{"type":"point","filled":true,"opacity":1},
    "encoding":{"x":{"field":"m","type":"ordinal"},"xOffset":{"field":"k","scale":{"domain":["B6m","B6f","Slem","Slef"]}},"y":{"field":"v","type":"quantitative"},
     "shape":{"condition":{"test":"datum.s=='m'","value":"square"},"value":"circle"},"size":{"condition":{"test":"datum.s=='m'","value":24},"value":15},"strokeWidth":{"condition":{"test":"datum.s=='m'","value":1.2},"value":0},
     "stroke":{"condition":{"test":"datum.g=='B6'","value":"#2a8a2a"},"value":"#8a0f14"},"fill":{"condition":[{"test":"datum.s=='m'","value":"white"},{"test":"datum.g=='B6'","value":"#2a8a2a"}],"value":"#8a0f14"}}}
  ]},
 {"width":198,"height":137,"title":{"text":"B.","dx":-52,"offset":-1},"resolve":{"scale":{"xOffset":"independent"}},
  "layer":[
   {"data":{"name":"b"},"transform":[{"filter":"datum.p=='B'"}],"mark":{"type":"bar","strokeWidth":1.5},
    "encoding":{"x":{"field":"m","type":"ordinal","title":"Months"},"xOffset":{"field":"g","scale":{"domain":["B6","Sle"],"paddingInner":0.08}},
     "y":{"field":"mean","type":"quantitative","scale":{"type":"log","domain":[1,10000],"range":[137,6],"nice":false},"axis":{"title":"Anti dsDNA level (U/mL)","titleX":-23,"values":[1,10,100,1000,10000],"tickCount":12,"labelOverlap":false,"labelExpr":"'10' + (datum.value < 0.5 ? '⁻' : '') + ['⁰','¹','²','³','⁴','⁵'][round(abs(log(datum.value)/LN10))]"}},
     "y2":{"datum":1},
     "fill":{"condition":{"test":"datum.g=='B6'","value":"#d9f0d5"},"value":"#f3d6d7"},"stroke":{"condition":{"test":"datum.g=='B6'","value":"#2f8f2f"},"value":"#8c1b20"}}},
   {"data":{"name":"b"},"transform":[{"filter":"datum.p=='B'"}],"mark":{"type":"rule","strokeWidth":1.2},
    "encoding":{"x":{"field":"m","type":"ordinal"},"xOffset":{"field":"g","scale":{"domain":["B6","Sle"],"paddingInner":0.08}},"y":{"field":"lo","type":"quantitative"},"y2":{"field":"hi"},"color":{"condition":{"test":"datum.g=='B6'","value":"#3a953a"},"value":"#9b3b40"}}},
   {"data":{"name":"b"},"transform":[{"filter":"datum.p=='B'"},{"fold":["lo","hi"],"as":["k","e"]}],"mark":{"type":"tick","size":6,"thickness":1.2},
    "encoding":{"x":{"field":"m","type":"ordinal"},"xOffset":{"field":"g","scale":{"domain":["B6","Sle"],"paddingInner":0.08}},"y":{"field":"e","type":"quantitative"},"color":{"condition":{"test":"datum.g=='B6'","value":"#3a953a"},"value":"#9b3b40"}}},
   {"data":{"name":"t"},"transform":[{"filter":"datum.p=='B'"}],"mark":{"type":"rule","strokeDash":[1.5,1.5],"strokeWidth":1.2,"color":"#111"},"encoding":{"y":{"field":"t","type":"quantitative"}}},
   {"data":{"name":"d"},"transform":[{"filter":"datum.p=='B'"},{"calculate":"datum.g+datum.s","as":"k"}],"mark":{"type":"point","filled":true,"opacity":1},
    "encoding":{"x":{"field":"m","type":"ordinal"},"xOffset":{"field":"k","scale":{"domain":["B6m","B6f","Slem","Slef"]}},"y":{"field":"v","type":"quantitative"},
     "shape":{"condition":{"test":"datum.s=='m'","value":"square"},"value":"circle"},"size":{"condition":{"test":"datum.s=='m'","value":24},"value":15},"strokeWidth":{"condition":{"test":"datum.s=='m'","value":1.2},"value":0},
     "stroke":{"condition":{"test":"datum.g=='B6'","value":"#2a8a2a"},"value":"#8a0f14"},"fill":{"condition":[{"test":"datum.s=='m'","value":"white"},{"test":"datum.g=='B6'","value":"#2a8a2a"}],"value":"#8a0f14"}}}
  ]},
 {"width":202,"height":137,"title":{"text":"C.","dx":-41,"offset":-6},"resolve":{"scale":{"xOffset":"independent"}},
  "layer":[
   {"data":{"name":"b"},"transform":[{"filter":"datum.p=='C'"}],"mark":{"type":"bar","strokeWidth":1.5},
    "encoding":{"x":{"field":"m","type":"ordinal","title":"Months"},"xOffset":{"field":"g","scale":{"domain":["B6","Sle"],"paddingInner":0.08}},
     "y":{"field":"mean","type":"quantitative","scale":{"type":"linear","domain":[0,3],"range":[137,0],"nice":false},"axis":{"title":"IgG deposit score","titleX":-19,"values":[0,1,2,3],"format":"d","tickCount":12,"labelOverlap":false}},
     "fill":{"condition":{"test":"datum.g=='B6'","value":"#d9f0d5"},"value":"#f3d6d7"},"stroke":{"condition":{"test":"datum.g=='B6'","value":"#2f8f2f"},"value":"#8c1b20"}}},
   {"data":{"name":"b"},"transform":[{"filter":"datum.p=='C'"}],"mark":{"type":"rule","strokeWidth":1.2},
    "encoding":{"x":{"field":"m","type":"ordinal"},"xOffset":{"field":"g","scale":{"domain":["B6","Sle"],"paddingInner":0.08}},"y":{"field":"lo","type":"quantitative"},"y2":{"field":"hi"},"color":{"condition":{"test":"datum.g=='B6'","value":"#3a953a"},"value":"#9b3b40"}}},
   {"data":{"name":"b"},"transform":[{"filter":"datum.p=='C'"},{"fold":["lo","hi"],"as":["k","e"]}],"mark":{"type":"tick","size":6,"thickness":1.2},
    "encoding":{"x":{"field":"m","type":"ordinal"},"xOffset":{"field":"g","scale":{"domain":["B6","Sle"],"paddingInner":0.08}},"y":{"field":"e","type":"quantitative"},"color":{"condition":{"test":"datum.g=='B6'","value":"#3a953a"},"value":"#9b3b40"}}},
   {"data":{"name":"t"},"transform":[{"filter":"datum.p=='C'"}],"mark":{"type":"rule","strokeDash":[1.5,1.5],"strokeWidth":1.2,"color":"#111"},"encoding":{"y":{"field":"t","type":"quantitative"}}},
   {"data":{"name":"d"},"transform":[{"filter":"datum.p=='C'"},{"calculate":"datum.g+datum.s","as":"k"}],"mark":{"type":"point","filled":true,"opacity":1},
    "encoding":{"x":{"field":"m","type":"ordinal"},"xOffset":{"field":"k","scale":{"domain":["B6m","B6f","Slem","Slef"]}},"y":{"field":"v","type":"quantitative"},
     "shape":{"condition":{"test":"datum.s=='m'","value":"square"},"value":"circle"},"size":{"condition":{"test":"datum.s=='m'","value":24},"value":15},"strokeWidth":{"condition":{"test":"datum.s=='m'","value":1.2},"value":0},
     "stroke":{"condition":{"test":"datum.g=='B6'","value":"#2a8a2a"},"value":"#8a0f14"},"fill":{"condition":[{"test":"datum.s=='m'","value":"white"},{"test":"datum.g=='B6'","value":"#2a8a2a"}],"value":"#8a0f14"}}}
  ]}
],"spacing":23},
{"width":1,"height":11,"data":{"values":[]},"mark":"point"},
{"hconcat":[
 {"width":191,"height":135,"title":{"text":"D.","dx":-50,"offset":6},"resolve":{"scale":{"xOffset":"independent"}},
  "layer":[
   {"data":{"name":"b"},"transform":[{"filter":"datum.p=='D'"}],"mark":{"type":"bar","strokeWidth":1.5},
    "encoding":{"x":{"field":"m","type":"ordinal","title":"Months"},"xOffset":{"field":"g","scale":{"domain":["B6","Sle"],"paddingInner":0.08}},
     "y":{"field":"mean","type":"quantitative","scale":{"type":"log","domain":[1,100000],"range":[135,2],"nice":false},"axis":{"title":"Albumin/creatinine ratio (mg/g)","titleX":-34,"values":[1,10,100,1000,10000,100000],"tickCount":12,"labelOverlap":false,"labelExpr":"'10' + (datum.value < 0.5 ? '⁻' : '') + ['⁰','¹','²','³','⁴','⁵'][round(abs(log(datum.value)/LN10))]"}},
     "y2":{"datum":1},
     "fill":{"condition":{"test":"datum.g=='B6'","value":"#d9f0d5"},"value":"#f3d6d7"},"stroke":{"condition":{"test":"datum.g=='B6'","value":"#2f8f2f"},"value":"#8c1b20"}}},
   {"data":{"name":"b"},"transform":[{"filter":"datum.p=='D'"}],"mark":{"type":"rule","strokeWidth":1.2},
    "encoding":{"x":{"field":"m","type":"ordinal"},"xOffset":{"field":"g","scale":{"domain":["B6","Sle"],"paddingInner":0.08}},"y":{"field":"lo","type":"quantitative"},"y2":{"field":"hi"},"color":{"condition":{"test":"datum.g=='B6'","value":"#3a953a"},"value":"#9b3b40"}}},
   {"data":{"name":"b"},"transform":[{"filter":"datum.p=='D'"},{"fold":["lo","hi"],"as":["k","e"]}],"mark":{"type":"tick","size":6,"thickness":1.2},
    "encoding":{"x":{"field":"m","type":"ordinal"},"xOffset":{"field":"g","scale":{"domain":["B6","Sle"],"paddingInner":0.08}},"y":{"field":"e","type":"quantitative"},"color":{"condition":{"test":"datum.g=='B6'","value":"#3a953a"},"value":"#9b3b40"}}},
   {"data":{"name":"t"},"transform":[{"filter":"datum.p=='D'"}],"mark":{"type":"rule","strokeDash":[1.5,1.5],"strokeWidth":1.2,"color":"#111"},"encoding":{"y":{"field":"t","type":"quantitative"}}},
   {"data":{"name":"d"},"transform":[{"filter":"datum.p=='D'"},{"calculate":"datum.g+datum.s","as":"k"}],"mark":{"type":"point","filled":true,"opacity":1},
    "encoding":{"x":{"field":"m","type":"ordinal"},"xOffset":{"field":"k","scale":{"domain":["B6m","B6f","Slem","Slef"]}},"y":{"field":"v","type":"quantitative"},
     "shape":{"condition":{"test":"datum.s=='m'","value":"square"},"value":"circle"},"size":{"condition":{"test":"datum.s=='m'","value":24},"value":15},"strokeWidth":{"condition":{"test":"datum.s=='m'","value":1.2},"value":0},
     "stroke":{"condition":{"test":"datum.g=='B6'","value":"#2a8a2a"},"value":"#8a0f14"},"fill":{"condition":[{"test":"datum.s=='m'","value":"white"},{"test":"datum.g=='B6'","value":"#2a8a2a"}],"value":"#8a0f14"}}}
  ]},
 {"width":206,"height":135,"title":{"text":"E.","dx":-53,"offset":5},"resolve":{"scale":{"xOffset":"independent"}},
  "layer":[
   {"data":{"name":"b"},"transform":[{"filter":"datum.p=='E'"}],"mark":{"type":"bar","strokeWidth":1.5},
    "encoding":{"x":{"field":"m","type":"ordinal","title":"Months"},"xOffset":{"field":"g","scale":{"domain":["B6","Sle"],"paddingInner":0.08}},
     "y":{"field":"mean","type":"quantitative","scale":{"type":"linear","domain":[0,12],"range":[135,0],"nice":false},"axis":{"title":"Activity scores","titleX":-21,"values":[0,2,4,6,8,10,12],"format":"d","tickCount":12,"labelOverlap":false}},
     "fill":{"condition":{"test":"datum.g=='B6'","value":"#d9f0d5"},"value":"#f3d6d7"},"stroke":{"condition":{"test":"datum.g=='B6'","value":"#2f8f2f"},"value":"#8c1b20"}}},
   {"data":{"name":"b"},"transform":[{"filter":"datum.p=='E'"}],"mark":{"type":"rule","strokeWidth":1.2},
    "encoding":{"x":{"field":"m","type":"ordinal"},"xOffset":{"field":"g","scale":{"domain":["B6","Sle"],"paddingInner":0.08}},"y":{"field":"lo","type":"quantitative"},"y2":{"field":"hi"},"color":{"condition":{"test":"datum.g=='B6'","value":"#3a953a"},"value":"#9b3b40"}}},
   {"data":{"name":"b"},"transform":[{"filter":"datum.p=='E'"},{"fold":["lo","hi"],"as":["k","e"]}],"mark":{"type":"tick","size":6,"thickness":1.2},
    "encoding":{"x":{"field":"m","type":"ordinal"},"xOffset":{"field":"g","scale":{"domain":["B6","Sle"],"paddingInner":0.08}},"y":{"field":"e","type":"quantitative"},"color":{"condition":{"test":"datum.g=='B6'","value":"#3a953a"},"value":"#9b3b40"}}},
   {"data":{"name":"t"},"transform":[{"filter":"datum.p=='E'"}],"mark":{"type":"rule","strokeDash":[1.5,1.5],"strokeWidth":1.2,"color":"#111"},"encoding":{"y":{"field":"t","type":"quantitative"}}},
   {"data":{"name":"d"},"transform":[{"filter":"datum.p=='E'"},{"calculate":"datum.g+datum.s","as":"k"}],"mark":{"type":"point","filled":true,"opacity":1},
    "encoding":{"x":{"field":"m","type":"ordinal"},"xOffset":{"field":"k","scale":{"domain":["B6m","B6f","Slem","Slef"]}},"y":{"field":"v","type":"quantitative"},
     "shape":{"condition":{"test":"datum.s=='m'","value":"square"},"value":"circle"},"size":{"condition":{"test":"datum.s=='m'","value":24},"value":15},"strokeWidth":{"condition":{"test":"datum.s=='m'","value":1.2},"value":0},
     "stroke":{"condition":{"test":"datum.g=='B6'","value":"#2a8a2a"},"value":"#8a0f14"},"fill":{"condition":[{"test":"datum.s=='m'","value":"white"},{"test":"datum.g=='B6'","value":"#2a8a2a"}],"value":"#8a0f14"}}}
  ]},
 {"width":203,"height":135,"title":{"text":"F.","dx":-35,"offset":9},"resolve":{"scale":{"xOffset":"independent"}},
  "layer":[
   {"data":{"name":"b"},"transform":[{"filter":"datum.p=='F'"}],"mark":{"type":"bar","strokeWidth":1.5},
    "encoding":{"x":{"field":"m","type":"ordinal","title":"Months"},"xOffset":{"field":"g","scale":{"domain":["B6","Sle"],"paddingInner":0.08}},
     "y":{"field":"mean","type":"quantitative","scale":{"type":"linear","domain":[0,12],"range":[135,4],"nice":false},"axis":{"title":"Chronicity scores","titleX":-21,"values":[0,2,4,6,8,10,12],"format":"d","tickCount":12,"labelOverlap":false}},
     "fill":{"condition":{"test":"datum.g=='B6'","value":"#d9f0d5"},"value":"#f3d6d7"},"stroke":{"condition":{"test":"datum.g=='B6'","value":"#2f8f2f"},"value":"#8c1b20"}}},
   {"data":{"name":"b"},"transform":[{"filter":"datum.p=='F'"}],"mark":{"type":"rule","strokeWidth":1.2},
    "encoding":{"x":{"field":"m","type":"ordinal"},"xOffset":{"field":"g","scale":{"domain":["B6","Sle"],"paddingInner":0.08}},"y":{"field":"lo","type":"quantitative"},"y2":{"field":"hi"},"color":{"condition":{"test":"datum.g=='B6'","value":"#3a953a"},"value":"#9b3b40"}}},
   {"data":{"name":"b"},"transform":[{"filter":"datum.p=='F'"},{"fold":["lo","hi"],"as":["k","e"]}],"mark":{"type":"tick","size":6,"thickness":1.2},
    "encoding":{"x":{"field":"m","type":"ordinal"},"xOffset":{"field":"g","scale":{"domain":["B6","Sle"],"paddingInner":0.08}},"y":{"field":"e","type":"quantitative"},"color":{"condition":{"test":"datum.g=='B6'","value":"#3a953a"},"value":"#9b3b40"}}},
   {"data":{"name":"t"},"transform":[{"filter":"datum.p=='F'"}],"mark":{"type":"rule","strokeDash":[1.5,1.5],"strokeWidth":1.2,"color":"#111"},"encoding":{"y":{"field":"t","type":"quantitative"}}},
   {"data":{"name":"d"},"transform":[{"filter":"datum.p=='F'"},{"calculate":"datum.g+datum.s","as":"k"}],"mark":{"type":"point","filled":true,"opacity":1},
    "encoding":{"x":{"field":"m","type":"ordinal"},"xOffset":{"field":"k","scale":{"domain":["B6m","B6f","Slem","Slef"]}},"y":{"field":"v","type":"quantitative"},
     "shape":{"condition":{"test":"datum.s=='m'","value":"square"},"value":"circle"},"size":{"condition":{"test":"datum.s=='m'","value":24},"value":15},"strokeWidth":{"condition":{"test":"datum.s=='m'","value":1.2},"value":0},
     "stroke":{"condition":{"test":"datum.g=='B6'","value":"#2a8a2a"},"value":"#8a0f14"},"fill":{"condition":[{"test":"datum.s=='m'","value":"white"},{"test":"datum.g=='B6'","value":"#2a8a2a"}],"value":"#8a0f14"}}}
  ]}
],"spacing":18},
{"hconcat":[
 {"width":187,"height":138,"title":{"text":"G.","dx":-50,"offset":13},"resolve":{"scale":{"xOffset":"independent"}},
  "layer":[
   {"data":{"name":"b"},"transform":[{"filter":"datum.p=='G'"}],"mark":{"type":"bar","strokeWidth":1.5},
    "encoding":{"x":{"field":"m","type":"ordinal","title":"Months","axis":{"domain":false}},"xOffset":{"field":"g","scale":{"domain":["B6","Sle"],"paddingInner":0.08}},
     "y":{"field":"mean","type":"quantitative","scale":{"type":"log","domain":[0.01,1000],"range":[141,10],"nice":false},"axis":{"title":"p16ᴵⁿᵏ⁴ᵃ positive cells/mm²","titleX":-35,"values":[0.01,0.1,1,10,100,1000],"tickCount":12,"labelOverlap":false,"labelExpr":"'10' + (datum.value < 0.5 ? '⁻' : '') + ['⁰','¹','²','³','⁴','⁵'][round(abs(log(datum.value)/LN10))]"}},
     "y2":{"datum":1},
     "fill":{"condition":{"test":"datum.g=='B6'","value":"#d9f0d5"},"value":"#f3d6d7"},"stroke":{"condition":{"test":"datum.g=='B6'","value":"#2f8f2f"},"value":"#8c1b20"}}},
   {"data":{"name":"b"},"transform":[{"filter":"datum.p=='G'"}],"mark":{"type":"rule","strokeWidth":1.2},
    "encoding":{"x":{"field":"m","type":"ordinal"},"xOffset":{"field":"g","scale":{"domain":["B6","Sle"],"paddingInner":0.08}},"y":{"field":"lo","type":"quantitative"},"y2":{"field":"hi"},"color":{"condition":{"test":"datum.g=='B6'","value":"#3a953a"},"value":"#9b3b40"}}},
   {"data":{"name":"b"},"transform":[{"filter":"datum.p=='G'"},{"fold":["lo","hi"],"as":["k","e"]}],"mark":{"type":"tick","size":6,"thickness":1.2},
    "encoding":{"x":{"field":"m","type":"ordinal"},"xOffset":{"field":"g","scale":{"domain":["B6","Sle"],"paddingInner":0.08}},"y":{"field":"e","type":"quantitative"},"color":{"condition":{"test":"datum.g=='B6'","value":"#3a953a"},"value":"#9b3b40"}}},
   {"data":{"values":[{"b":1}]},"mark":{"type":"rule","strokeWidth":1.5,"color":"#000"},"encoding":{"y":{"field":"b","type":"quantitative"}}},
   {"data":{"name":"t"},"transform":[{"filter":"datum.p=='G'"}],"mark":{"type":"rule","strokeDash":[1.5,1.5],"strokeWidth":1.2,"color":"#111"},"encoding":{"y":{"field":"t","type":"quantitative"}}},
   {"data":{"name":"d"},"transform":[{"filter":"datum.p=='G'"},{"calculate":"datum.g+datum.s","as":"k"}],"mark":{"type":"point","filled":true,"opacity":1},
    "encoding":{"x":{"field":"m","type":"ordinal"},"xOffset":{"field":"k","scale":{"domain":["B6m","B6f","Slem","Slef"]}},"y":{"field":"v","type":"quantitative"},
     "shape":{"condition":{"test":"datum.s=='m'","value":"square"},"value":"circle"},"size":{"condition":{"test":"datum.s=='m'","value":24},"value":15},"strokeWidth":{"condition":{"test":"datum.s=='m'","value":1.2},"value":0},
     "stroke":{"condition":{"test":"datum.g=='B6'","value":"#2a8a2a"},"value":"#8a0f14"},"fill":{"condition":[{"test":"datum.s=='m'","value":"white"},{"test":"datum.g=='B6'","value":"#2a8a2a"}],"value":"#8a0f14"}}}
  ]},
 {"width":207,"height":138,"title":{"text":"H.","dx":-49,"offset":-7},"resolve":{"scale":{"xOffset":"independent"}},
  "layer":[
   {"data":{"name":"b"},"transform":[{"filter":"datum.p=='H'"}],"mark":{"type":"bar","strokeWidth":1.5},
    "encoding":{"x":{"field":"m","type":"ordinal","title":"Months"},"xOffset":{"field":"g","scale":{"domain":["B6","Sle"],"paddingInner":0.08}},
     "y":{"field":"mean","type":"quantitative","scale":{"type":"linear","domain":[0,250],"range":[138,7],"nice":false},"axis":{"title":"CD8 positive cells/mm²","titleX":-20,"values":[0,50,100,150,200,250],"format":"d","tickCount":12,"labelOverlap":false}},
     "fill":{"condition":{"test":"datum.g=='B6'","value":"#d9f0d5"},"value":"#f3d6d7"},"stroke":{"condition":{"test":"datum.g=='B6'","value":"#2f8f2f"},"value":"#8c1b20"}}},
   {"data":{"name":"b"},"transform":[{"filter":"datum.p=='H'"}],"mark":{"type":"rule","strokeWidth":1.2},
    "encoding":{"x":{"field":"m","type":"ordinal"},"xOffset":{"field":"g","scale":{"domain":["B6","Sle"],"paddingInner":0.08}},"y":{"field":"lo","type":"quantitative"},"y2":{"field":"hi"},"color":{"condition":{"test":"datum.g=='B6'","value":"#3a953a"},"value":"#9b3b40"}}},
   {"data":{"name":"b"},"transform":[{"filter":"datum.p=='H'"},{"fold":["lo","hi"],"as":["k","e"]}],"mark":{"type":"tick","size":6,"thickness":1.2},
    "encoding":{"x":{"field":"m","type":"ordinal"},"xOffset":{"field":"g","scale":{"domain":["B6","Sle"],"paddingInner":0.08}},"y":{"field":"e","type":"quantitative"},"color":{"condition":{"test":"datum.g=='B6'","value":"#3a953a"},"value":"#9b3b40"}}},
   {"data":{"name":"t"},"transform":[{"filter":"datum.p=='H'"}],"mark":{"type":"rule","strokeDash":[1.5,1.5],"strokeWidth":1.2,"color":"#111"},"encoding":{"y":{"field":"t","type":"quantitative"}}},
   {"data":{"name":"d"},"transform":[{"filter":"datum.p=='H'"},{"calculate":"datum.g+datum.s","as":"k"}],"mark":{"type":"point","filled":true,"opacity":1},
    "encoding":{"x":{"field":"m","type":"ordinal"},"xOffset":{"field":"k","scale":{"domain":["B6m","B6f","Slem","Slef"]}},"y":{"field":"v","type":"quantitative"},
     "shape":{"condition":{"test":"datum.s=='m'","value":"square"},"value":"circle"},"size":{"condition":{"test":"datum.s=='m'","value":24},"value":15},"strokeWidth":{"condition":{"test":"datum.s=='m'","value":1.2},"value":0},
     "stroke":{"condition":{"test":"datum.g=='B6'","value":"#2a8a2a"},"value":"#8a0f14"},"fill":{"condition":[{"test":"datum.s=='m'","value":"white"},{"test":"datum.g=='B6'","value":"#2a8a2a"}],"value":"#8a0f14"}}}
  ]},
 {"width":202,"height":138,"title":{"text":"I.","dx":-35,"offset":-15},"resolve":{"scale":{"xOffset":"independent"}},
  "layer":[
   {"data":{"name":"b"},"transform":[{"filter":"datum.p=='I'"}],"mark":{"type":"bar","strokeWidth":1.5},
    "encoding":{"x":{"field":"m","type":"ordinal","title":"Months"},"xOffset":{"field":"g","scale":{"domain":["B6","Sle"],"paddingInner":0.08}},
     "y":{"field":"mean","type":"quantitative","scale":{"type":"linear","domain":[0,6],"range":[138,0],"nice":false},"axis":{"title":"Semi-quantitative PSR scores","titleX":-14,"values":[0,2,4,6],"format":"d","tickCount":12,"labelOverlap":false}},
     "fill":{"condition":{"test":"datum.g=='B6'","value":"#d9f0d5"},"value":"#f3d6d7"},"stroke":{"condition":{"test":"datum.g=='B6'","value":"#2f8f2f"},"value":"#8c1b20"}}},
   {"data":{"name":"b"},"transform":[{"filter":"datum.p=='I'"}],"mark":{"type":"rule","strokeWidth":1.2},
    "encoding":{"x":{"field":"m","type":"ordinal"},"xOffset":{"field":"g","scale":{"domain":["B6","Sle"],"paddingInner":0.08}},"y":{"field":"lo","type":"quantitative"},"y2":{"field":"hi"},"color":{"condition":{"test":"datum.g=='B6'","value":"#3a953a"},"value":"#9b3b40"}}},
   {"data":{"name":"b"},"transform":[{"filter":"datum.p=='I'"},{"fold":["lo","hi"],"as":["k","e"]}],"mark":{"type":"tick","size":6,"thickness":1.2},
    "encoding":{"x":{"field":"m","type":"ordinal"},"xOffset":{"field":"g","scale":{"domain":["B6","Sle"],"paddingInner":0.08}},"y":{"field":"e","type":"quantitative"},"color":{"condition":{"test":"datum.g=='B6'","value":"#3a953a"},"value":"#9b3b40"}}},
   {"data":{"name":"t"},"transform":[{"filter":"datum.p=='I'"}],"mark":{"type":"rule","strokeDash":[1.5,1.5],"strokeWidth":1.2,"color":"#111"},"encoding":{"y":{"field":"t","type":"quantitative"}}},
   {"data":{"name":"d"},"transform":[{"filter":"datum.p=='I'"},{"calculate":"datum.g+datum.s","as":"k"}],"mark":{"type":"point","filled":true,"opacity":1},
    "encoding":{"x":{"field":"m","type":"ordinal"},"xOffset":{"field":"k","scale":{"domain":["B6m","B6f","Slem","Slef"]}},"y":{"field":"v","type":"quantitative"},
     "shape":{"condition":{"test":"datum.s=='m'","value":"square"},"value":"circle"},"size":{"condition":{"test":"datum.s=='m'","value":24},"value":15},"strokeWidth":{"condition":{"test":"datum.s=='m'","value":1.2},"value":0},
     "stroke":{"condition":{"test":"datum.g=='B6'","value":"#2a8a2a"},"value":"#8a0f14"},"fill":{"condition":[{"test":"datum.s=='m'","value":"white"},{"test":"datum.g=='B6'","value":"#2a8a2a"}],"value":"#8a0f14"}}}
  ]}
],"spacing":22},
{"width":1,"height":6,"data":{"values":[]},"mark":"point"},
{"hconcat":[
 {"width":1,"height":83,"data":{"values":[]},"mark":"point"},
 {"width":161,"height":83,"view":{"stroke":"black","strokeWidth":2},
  "data":{"values":[
   {"r":1,"g":"B6","s":"m","a":"B6, male","b":"","c":""},
   {"r":2,"g":"Sle","s":"m","a":"B6.","b":"Sle1.2.3","c":", male"},
   {"r":3,"g":"B6","s":"f","a":"B6, female","b":"","c":""},
   {"r":4,"g":"Sle","s":"f","a":"B6.","b":"Sle1.2.3","c":", female"}
  ]},
  "encoding":{"x":{"datum":0.1,"type":"quantitative","scale":{"domain":[0,1]},"axis":null},"y":{"field":"r","type":"ordinal","scale":{"padding":0.9},"axis":null}},
  "layer":[
   {"mark":{"type":"point","filled":true,"opacity":1},"encoding":{"shape":{"condition":{"test":"datum.s=='m'","value":"square"},"value":"circle"},"size":{"condition":{"test":"datum.s=='m'","value":49},"value":70},"strokeWidth":{"condition":{"test":"datum.s=='m'","value":2},"value":0},"stroke":{"condition":{"test":"datum.g=='B6'","value":"#2e9a2e"},"value":"#8c1b20"},"fill":{"condition":[{"test":"datum.s=='m'","value":"white"},{"test":"datum.g=='B6'","value":"#2e9a2e"}],"value":"#8c1b20"}}},
   {"mark":{"type":"text","align":"left","dx":12,"fontSize":13},"encoding":{"text":{"field":"a"},"color":{"condition":{"test":"datum.g=='B6'","value":"#2e9a2e"},"value":"#8c1b20"}}},
   {"mark":{"type":"text","align":"left","dx":31.5,"fontSize":13,"fontStyle":"italic"},"encoding":{"text":{"field":"b"},"color":{"condition":{"test":"datum.g=='B6'","value":"#2e9a2e"},"value":"#8c1b20"}}},
   {"mark":{"type":"text","align":"left","dx":79.2,"fontSize":13},"encoding":{"text":{"field":"c"},"color":{"condition":{"test":"datum.g=='B6'","value":"#2e9a2e"},"value":"#8c1b20"}}}
  ]}
],"spacing":7}
]
}
